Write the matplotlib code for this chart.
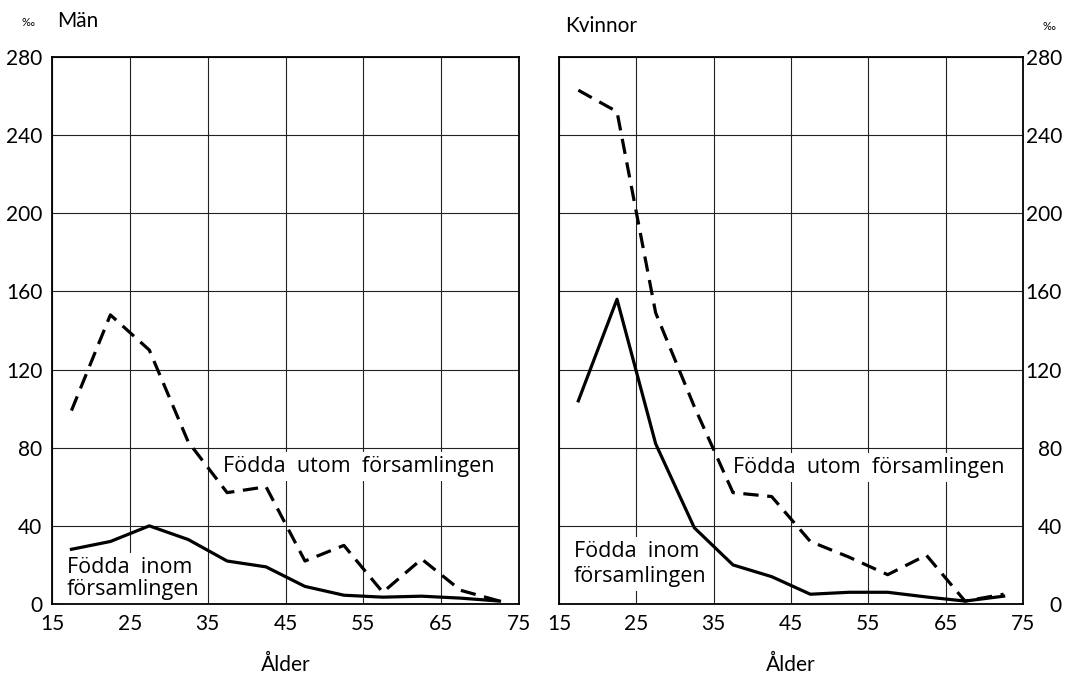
import matplotlib
matplotlib.use("Agg")
import matplotlib.pyplot as plt

plt.rcParams['font.family'] = ['Lato', 'DejaVu Sans']

# Age group midpoints
ages = [17.5, 22.5, 27.5, 32.5, 37.5, 42.5, 47.5, 52.5, 57.5, 62.5, 67.5, 72.5]

# Män (per mille)
man_utom = [99, 148, 130, 83, 57, 60, 22, 30, 6, 23, 7, 1.5]
man_inom = [28, 32, 40, 33, 22, 19, 9, 4.5, 3.5, 4, 3, 1.5]

# Kvinnor (per mille)
kv_utom = [263, 252, 149, 101, 57, 55, 32, 24, 15, 25, 1.5, 5]
kv_inom = [104, 156, 82, 39, 20, 14, 5, 6, 6, 3.6, 1.5, 4]

xticks = [15, 25, 35, 45, 55, 65, 75]
yticks = [0, 40, 80, 120, 160, 200, 240, 280]

W, H = 1067, 673
fig = plt.figure(figsize=(W / 100, H / 100), dpi=100)

def px_axes(x0, x1, y0, y1):
    return fig.add_axes([x0 / W, 1 - y1 / H, (x1 - x0) / W, (y1 - y0) / H])

axL = px_axes(52, 519, 57, 604)
axR = px_axes(559, 1023, 57, 604)

FS = 15
AFS = 15.5
lw = 2.3
dash = (0, (4.8, 2.7))
ANN = ['Open Sans', 'DejaVu Sans']

for ax in (axL, axR):
    ax.set_xlim(15, 75)
    ax.set_ylim(0, 280)
    ax.set_xticks(xticks)
    ax.set_yticks(yticks)
    ax.set_axisbelow(True)
    ax.grid(True, color='#222222', linewidth=0.8)
    for s in ax.spines.values():
        s.set_linewidth(1.3)
        s.set_color('black')
    ax.tick_params(length=0, labelsize=FS, colors='black')
    ax.tick_params(axis='x', pad=7)

axL.tick_params(axis='y', pad=7)
axR.yaxis.tick_right()
axR.tick_params(axis='y', pad=28)
for lab in axR.get_yticklabels():
    lab.set_horizontalalignment('right')

# Lines
axL.plot(ages, man_utom, color='black', lw=lw, linestyle=dash, zorder=3, clip_on=False)
axL.plot(ages, man_inom, color='black', lw=lw, zorder=3, clip_on=False)
axR.plot(ages, kv_utom, color='black', lw=lw, linestyle=dash, zorder=3, clip_on=False)
axR.plot(ages, kv_inom, color='black', lw=lw, zorder=3, clip_on=False)

box = dict(facecolor='white', edgecolor='none', pad=3)
axL.text(37.0, 70.5, 'Födda  utom  församlingen', fontsize=AFS, family=ANN,
         va='center', ha='left', bbox=box, zorder=2)
axL.text(16.9, 13, 'Födda  inom\nförsamlingen', fontsize=AFS, family=ANN,
         va='center', ha='left', linespacing=1.1, bbox=box, zorder=2)
axR.text(37.5, 70, 'Födda  utom  församlingen', fontsize=AFS, family=ANN,
         va='center', ha='left', bbox=box, zorder=2)
axR.text(16.9, 20.5, 'Födda  inom\nförsamlingen', fontsize=AFS, family=ANN,
         va='center', ha='left', linespacing=1.2, bbox=box, zorder=2)

# Axis labels
axL.set_xlabel('Ålder', fontsize=FS, labelpad=15)
axR.set_xlabel('Ålder', fontsize=FS, labelpad=15)

# Titles / units
fig.text(57 / W, 1 - 21 / H, 'Män', fontsize=FS, va='center', ha='left')
fig.text(22 / W, 1 - 22 / H, '‰', fontsize=8, va='center', ha='left')
fig.text(565 / W, 1 - 26 / H, 'Kvinnor', fontsize=FS, va='center', ha='left')
fig.text(1049 / W, 1 - 26 / H, '‰', fontsize=8, va='center', ha='center')

fig.savefig('out.png', dpi=100)
